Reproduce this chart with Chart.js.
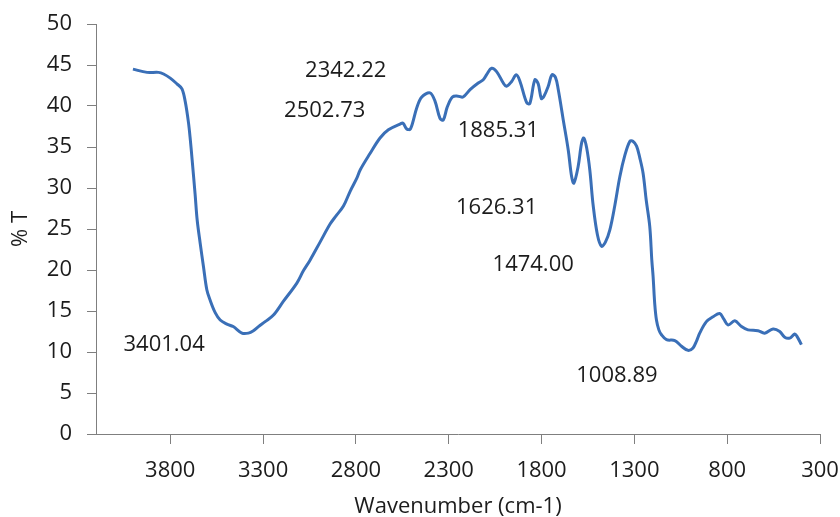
<!DOCTYPE html>
<html>
<head>
<meta charset="utf-8">
<script src="https://cdn.jsdelivr.net/npm/chart.js@4/dist/chart.umd.min.js"></script>
<style>
  html, body { margin: 0; padding: 0; background: #ffffff; }
  #wrap { width: 840px; height: 517px; position: relative; }
</style>
</head>
<body>
<div id="wrap"><canvas id="ir"></canvas></div>
<script>
// FTIR spectrum: wavenumber (cm-1) against transmittance (%T)
const wavenumbers = [
  4001, 3925, 3863, 3836, 3800, 3764, 3737, 3719, 3702, 3692,
  3682, 3666, 3655, 3639, 3621, 3603, 3585, 3558, 3531, 3495,
  3461, 3414, 3379, 3352, 3325, 3289, 3244, 3190, 3118, 3083,
  3047, 2993, 2939, 2907, 2867, 2831, 2795, 2777, 2724, 2670,
  2625, 2562, 2546, 2526, 2506, 2472, 2445, 2401, 2374, 2347,
  2329, 2309, 2280, 2250, 2223, 2185, 2141, 2114, 2094, 2069,
  2042, 2006, 1989, 1961, 1936, 1916, 1880, 1863, 1836, 1818,
  1801, 1787, 1764, 1744, 1725, 1710, 1683, 1656, 1638, 1626,
  1603, 1584, 1572, 1557, 1540, 1522, 1499, 1477, 1456, 1432,
  1405, 1378, 1351, 1324, 1308, 1288, 1271, 1253, 1236, 1217,
  1206, 1199, 1190, 1181, 1168, 1154, 1127, 1082, 1046, 1011,
  984, 964, 948, 912, 876, 840, 818, 795, 759, 723,
  688, 634, 598, 553, 517, 490, 463, 436, 424, 400
];
const transmittance = [
  44.5, 44.1, 44.1, 43.9, 43.4, 42.7, 42.1, 40.5, 38.0, 35.9,
  33.4, 29.2, 26.1, 23.3, 20.4, 17.6, 16.3, 14.8, 13.9, 13.4,
  13.1, 12.3, 12.3, 12.6, 13.1, 13.7, 14.5, 16.2, 18.4, 19.9,
  21.2, 23.4, 25.6, 26.6, 27.8, 29.6, 31.2, 32.2, 34.2, 36.1,
  37.1, 37.8, 37.9, 37.2, 37.2, 39.8, 41.1, 41.6, 40.6, 38.5,
  38.3, 39.8, 41.1, 41.2, 41.1, 42.0, 42.8, 43.2, 43.9, 44.6,
  44.2, 42.8, 42.4, 43.0, 43.8, 43.0, 40.4, 40.3, 43.2, 42.7,
  40.9, 41.2, 42.4, 43.8, 43.5, 42.0, 38.3, 34.6, 31.4, 30.6,
  32.6, 35.5, 36.1, 34.9, 32.2, 27.9, 24.3, 22.9, 23.4, 24.9,
  27.9, 31.4, 34.0, 35.7, 35.7, 35.1, 33.7, 31.8, 28.5, 25.3,
  21.2, 19.2, 15.8, 13.9, 12.7, 12.1, 11.5, 11.4, 10.7, 10.2,
  10.5, 11.4, 12.3, 13.7, 14.3, 14.7, 14.0, 13.3, 13.8, 13.1,
  12.7, 12.6, 12.3, 12.8, 12.5, 11.8, 11.7, 12.2, 11.9, 10.9
];

// axis ticks
const xTickValues = [3800, 3300, 2800, 2300, 1800, 1300, 800, 300];
const yTickStep = 5;

// band assignments written on the plot
const bandLabels = ['3401.04', '2502.73', '2342.22', '1885.31', '1626.31', '1474.00', '1008.89'];
// where each band label sits, in axis units [wavenumber, %T]
const bandLabelAnchors = [
  [3833, 10.9], [2968, 39.4], [2855, 44.3], [2033, 37.0],
  [2042, 27.6], [1845, 20.7], [1394, 7.1]
];

const FONT = '"Open Sans", "Liberation Sans", sans-serif';
const TEXT = '#1c1c1c';
const AXIS = '#7f7f7f';

const bandLabelPlugin = {
  id: 'bandLabels',
  afterDatasetsDraw(chart) {
    const { ctx, scales: { x, y } } = chart;
    ctx.save();
    ctx.font = '22px ' + FONT;
    ctx.fillStyle = TEXT;
    ctx.textAlign = 'center';
    ctx.textBaseline = 'middle';
    bandLabels.forEach((txt, i) => {
      const [wn, t] = bandLabelAnchors[i];
      ctx.fillText(txt, x.getPixelForValue(wn), y.getPixelForValue(t));
    });
    ctx.restore();
  }
};

const points = wavenumbers.map((wn, i) => ({ x: wn, y: transmittance[i] }));

new Chart(document.getElementById('ir'), {
  type: 'line',
  data: {
    datasets: [{
      data: points,
      borderColor: '#3a6fb7',
      borderWidth: 3,
      pointRadius: 0,
      tension: 0.35,
      fill: false
    }]
  },
  options: {
    responsive: true,
    maintainAspectRatio: false,
    animation: false,
    layout: { padding: { top: 24, right: 20, left: 0, bottom: 0 } },
    plugins: { legend: { display: false }, tooltip: { enabled: false } },
    scales: {
      x: {
        type: 'linear',
        reverse: true,
        min: 300,
        max: 4200,
        afterBuildTicks(scale) {
          scale.ticks = xTickValues.map(v => ({ value: v }));
        },
        afterFit(scale) {
          scale.height = 83;
          scale.paddingLeft = 0;
          scale.paddingRight = 0;
        },
        border: { display: true, color: AXIS, width: 1 },
        grid: { drawOnChartArea: false, drawTicks: true, tickLength: 10, color: AXIS },
        ticks: {
          autoSkip: false,
          maxRotation: 0,
          padding: 14,
          color: TEXT,
          font: { family: FONT, size: 22 },
          callback: v => String(v)
        },
        title: {
          display: true,
          text: 'Wavenumber (cm-1)',
          color: TEXT,
          font: { family: FONT, size: 22, lineHeight: 0.9 },
          padding: { top: 0, bottom: 0 }
        }
      },
      y: {
        min: 0,
        max: 50,
        afterFit(scale) {
          scale.width = 96;
          scale.paddingTop = 0;
          scale.paddingBottom = 0;
        },
        border: { display: true, color: AXIS, width: 1 },
        grid: { drawOnChartArea: false, drawTicks: true, tickLength: 9, color: AXIS },
        ticks: {
          stepSize: yTickStep,
          padding: 15,
          color: TEXT,
          font: { family: FONT, size: 22 }
        },
        title: {
          display: true,
          text: '% T',
          color: TEXT,
          font: { family: FONT, size: 22, lineHeight: 1 },
          padding: { top: 10, bottom: 0 }
        }
      }
    }
  },
  plugins: [bandLabelPlugin]
});
</script>
</body>
</html>
